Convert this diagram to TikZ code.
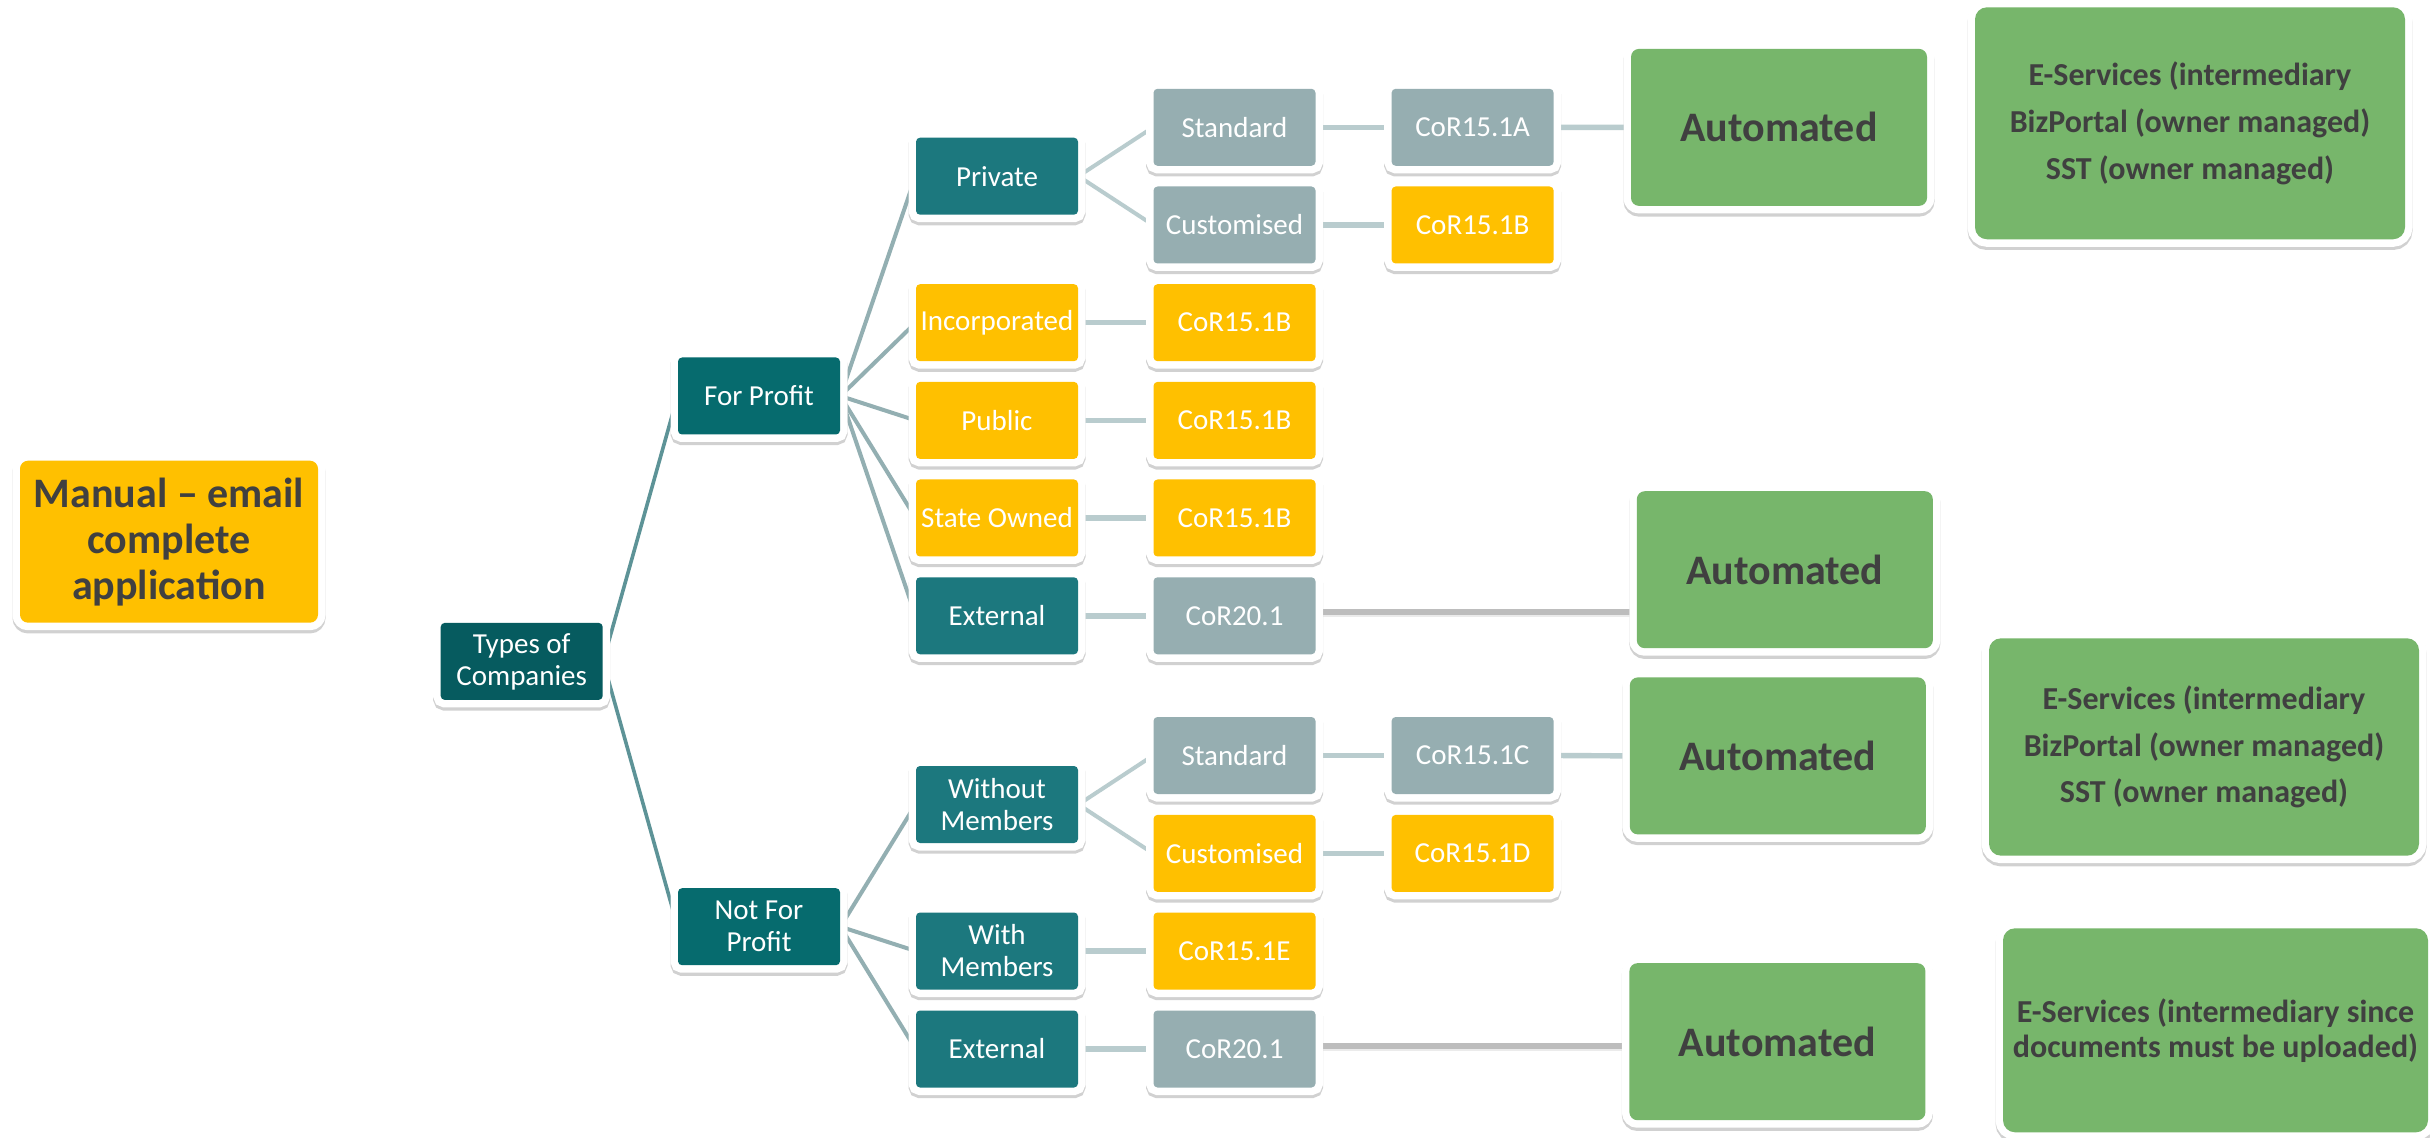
\documentclass[tikz,border=0pt]{standalone}
\usepackage{fontspec}
\setmainfont{Carlito}
\usetikzlibrary{backgrounds}

\definecolor{tealA}{HTML}{065B5F}
\definecolor{tealB}{HTML}{066B6E}
\definecolor{tealC}{HTML}{1C787E}
\definecolor{slate}{HTML}{96AEB1}
\definecolor{amber}{HTML}{FFC000}
\definecolor{leaf}{HTML}{77B66B}
\definecolor{ink}{HTML}{404040}
\definecolor{lineA}{HTML}{5D9397}
\definecolor{lineB}{HTML}{93AFB2}
\definecolor{lineC}{HTML}{B9CCCE}
\definecolor{lineG}{HTML}{BDBDBD}

\tikzset{
  card/.style={rectangle, rounded corners=2pt, inner sep=0pt,
    minimum width=81pt, minimum height=38.5pt, align=center, text=white,
    font=\fontsize{14.5}{16}\selectfont,
    preaction={draw=black, draw opacity=0.18, line width=7.5pt,
               transform canvas={yshift=-1.6pt}},
    preaction={draw=white, line width=7.5pt}},
  rootbox/.style={card, fill=tealA},
  kindbox/.style={card, fill=tealB},
  subbox/.style={card, fill=tealC},
  greybox/.style={card, fill=slate},
  ambbox/.style={card, fill=amber},
  autobox/.style={card, rounded corners=4pt, fill=leaf, text=ink,
    minimum width=148pt, minimum height=78.5pt,
    font=\bfseries\fontsize{21}{23}\selectfont},
  manualbox/.style={autobox, fill=amber, minimum width=149pt, minimum height=81pt},
  servbox/.style={autobox, rounded corners=6pt,
    font=\bfseries\fontsize{16}{23.3}\selectfont},
  linkA/.style={draw=lineA, line width=1.8pt},
  linkB/.style={draw=lineB, line width=2pt},
  linkC/.style={draw=lineC, line width=2pt},
  linkH/.style={draw=lineC, line width=2.7pt},
  linkG/.style={draw=lineG, line width=3.2pt,
    preaction={draw=black, draw opacity=0.08, line width=3.2pt,
               transform canvas={yshift=-1pt}}}
}

\begin{document}
\begin{tikzpicture}[x=0.5pt, y=-0.5pt]
\useasboundingbox (0,0) rectangle (2430,1138);

% left-hand note
\node[manualbox] (manual) at (169,541.7) {Manual – email\\complete\\application};

% tree of company types
\node[rootbox] (types) at (521.7,661.4) {Types of\\Companies};
\node[kindbox] (fp)  at (759,396)   {For Profit};
\node[kindbox] (nfp) at (759,926.7) {Not For\\Profit};

\node[subbox]  (priv)  at (997,176.2) {Private};
\node[ambbox]  (inc)   at (997,322.7) {Incorporated};
\node[ambbox]  (pub)   at (997,420.4) {Public};
\node[ambbox]  (state) at (997,518)   {State Owned};
\node[subbox]  (ext)   at (997,615.8) {External};
\node[subbox]  (wom)   at (997,804.5) {Without\\Members};
\node[subbox]  (wm)    at (997,951)   {With\\Members};
\node[subbox]  (ext2)  at (997,1049)  {External};

\node[greybox] (std)    at (1234.5,127.3) {Standard};
\node[greybox] (cus)    at (1234.5,225)   {Customised};
\node[ambbox]  (incc)   at (1234.5,322.7) {CoR15.1B};
\node[ambbox]  (pubc)   at (1234.5,420.4) {CoR15.1B};
\node[ambbox]  (statec) at (1234.5,518)   {CoR15.1B};
\node[greybox] (extc)   at (1234.5,615.8) {CoR20.1};
\node[greybox] (std2)   at (1234.5,755.5) {Standard};
\node[ambbox]  (cus2)   at (1234.5,853.4) {Customised};
\node[ambbox]  (wmc)    at (1234.5,951)   {CoR15.1E};
\node[greybox] (ext2c)  at (1234.5,1049)  {CoR20.1};

\node[greybox] (cora) at (1472.6,127.3) {CoR15.1A};
\node[ambbox]  (corb) at (1472.6,225)   {CoR15.1B};
\node[greybox] (corc) at (1472.6,755.5) {CoR15.1C};
\node[ambbox]  (cord) at (1472.6,853.4) {CoR15.1D};

% outcomes
\node[autobox] (autoa) at (1779,127.4)   {Automated};
\node[autobox] (autob) at (1784.8,569.7) {Automated};
\node[autobox] (autoc) at (1777.8,755.9) {Automated};
\node[autobox] (autod) at (1777.4,1041.7) {Automated};

\node[servbox, minimum width=215pt, minimum height=116pt] (esa) at (2190,123.3)
  {E-Services (intermediary\\BizPortal (owner managed)\\SST (owner managed)};
\node[servbox, minimum width=215pt, minimum height=108.7pt] (esb) at (2204,747)
  {E-Services (intermediary\\BizPortal (owner managed)\\SST (owner managed)};
\node[servbox, minimum width=212.5pt, minimum height=102pt,
      font=\bfseries\fontsize{16}{17.5}\selectfont] (esc) at (2215.5,1030.3)
  {E-Services (intermediary since\\documents must be uploaded)};

\begin{scope}[on background layer]
  \fill[white] (0,0) rectangle (2430,1138);
  % first split
  \path[linkA] (types.east) -- (fp.west);
  \path[linkA] (types.east) -- (nfp.west);
  % second split
  \foreach \c in {priv,inc,pub,state,ext} \path[linkB] (fp.east) -- (\c.west);
  \foreach \c in {wom,wm,ext2} \path[linkB] (nfp.east) -- (\c.west);
  % third split
  \path[linkC] (priv.east) -- (std.west);
  \path[linkC] (priv.east) -- (cus.west);
  \path[linkC] (wom.east) -- (std2.west);
  \path[linkC] (wom.east) -- (cus2.west);
  % straight runs
  \path[linkH] (std.east) -- (cora.west);
  \path[linkH] (cus.east) -- (corb.west);
  \path[linkH] (inc.east) -- (incc.west);
  \path[linkH] (pub.east) -- (pubc.west);
  \path[linkH] (state.east) -- (statec.west);
  \path[linkH] (ext.east) -- (extc.west);
  \path[linkH] (std2.east) -- (corc.west);
  \path[linkH] (cus2.east) -- (cord.west);
  \path[linkH] (wm.east) -- (wmc.west);
  \path[linkH] (ext2.east) -- (ext2c.west);
  \path[linkH] (cora.east) -- (autoa.west);
  \path[linkH] (corc.east) -- (autoc.west);
  % grey runs to the automated outcomes
  \path[linkG] ([yshift=2pt]extc.east) -- ([yshift=2pt]extc.east -| autob.west);
  \path[linkG] ([yshift=1.5pt]ext2c.east) -- ([yshift=1.5pt]ext2c.east -| autod.west);
\end{scope}
\end{tikzpicture}
\end{document}
